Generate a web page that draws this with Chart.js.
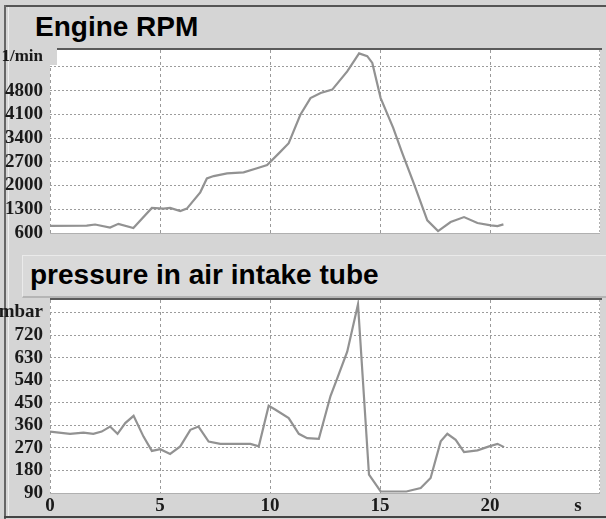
<!DOCTYPE html>
<html><head><meta charset="utf-8">
<script src="https://cdn.jsdelivr.net/npm/chart.js@4"></script>
<style>
body{margin:0;background:#fff;}
#wrap{position:relative;width:606px;height:519px;background:#d5d5d5;overflow:hidden;}
.t{position:absolute;font-family:"Liberation Sans",Arial,sans-serif;font-weight:bold;font-size:28px;line-height:28px;color:#000;white-space:nowrap;}
canvas{position:absolute;}
.ln{position:absolute;}
</style></head>
<body>
<div id="wrap">
  <div class="ln" style="left:5px;top:5px;width:601px;height:2px;background:#555;"></div>
  <div class="ln" style="left:4px;top:5px;width:2px;height:514px;background:#666;"></div>
  <div class="ln" style="left:8px;top:7px;width:1px;height:510px;background:#eee;"></div>
  <div class="ln" style="left:4px;top:516px;width:602px;height:2px;background:#444;"></div>
  <div class="ln" style="left:22px;top:255px;width:584px;height:40px;background:#d9d9d9;border-top:1px solid #eaeaea;border-left:1px solid #eaeaea;border-bottom:2px solid #b5b5b5;"></div>
  <div class="t" style="left:35px;top:13px;">Engine RPM</div>
  <div class="t" style="left:30px;top:261px;">pressure in air intake tube</div>
  <canvas id="c1" width="606" height="200" style="left:0;top:40px;"></canvas>
  <canvas id="c2" width="606" height="229" style="left:0;top:290px;"></canvas>
</div>
<script>
// Engine RPM (1/min) over time (s)
const rpmTime = [0, 1.67, 2.05, 2.73, 3.11, 3.79, 4.63, 5.16, 5.46, 5.92, 6.22, 6.83, 7.13, 7.44, 8.05, 8.8, 9.41, 9.87, 10.4, 10.85, 11.38, 11.84, 12.3, 12.83, 13.51, 14.05, 14.42, 14.65, 15.03, 15.6, 16.0, 16.54, 17.15, 17.64, 18.21, 18.82, 19.43, 20.04, 20.34, 20.61];
const rpmValues = [810, 815, 850, 760, 870, 745, 1340, 1320, 1340, 1250, 1320, 1800, 2210, 2280, 2360, 2390, 2510, 2605, 2950, 3250, 4090, 4580, 4730, 4830, 5370, 5900, 5817, 5620, 4580, 3700, 2980, 2060, 975, 656, 925, 1070, 895, 825, 805, 855];
// Pressure in air intake tube (mbar) over time (s)
const pTime = [0, 0.91, 1.52, 1.97, 2.35, 2.73, 3.07, 3.42, 3.8, 4.25, 4.63, 5.01, 5.46, 5.92, 6.38, 6.75, 7.21, 7.74, 9.11, 9.49, 9.94, 10.25, 10.85, 11.31, 11.69, 12.22, 12.75, 13.06, 13.51, 14.0, 14.5, 15.03, 15.94, 16.2, 16.85, 17.3, 17.76, 18.06, 18.44, 18.82, 19.43, 19.96, 20.34, 20.64];
const pValues = [335, 326, 331, 326, 335, 355, 326, 369, 398, 315, 258, 265, 246, 276, 342, 355, 295, 286, 286, 276, 438, 422, 389, 326, 309, 306, 477, 548, 654, 843, 163, 96, 96, 96, 110, 150, 296, 326, 302, 253, 260, 276, 286, 273];
// Tick labels
const xTicks = [0, 5, 10, 15, 20];
const xUnit = 's';
const rpmTicks = [600, 1300, 2000, 2700, 3400, 4100, 4800, 5500];
const rpmUnit = '1/min';
const pTicks = [90, 180, 270, 360, 450, 540, 630, 720];
const pUnit = 'mbar';

const GRAY = '#d5d5d5';
const frame = {
  id: 'frame',
  beforeDraw(chart) {
    const a = chart.chartArea, c = chart.ctx;
    c.save(); c.fillStyle = '#fff';
    c.fillRect(a.left, a.top, a.right - a.left, a.bottom - a.top);
    c.restore();
  },
  afterDraw(chart, args, opts) {
    const a = chart.chartArea, c = chart.ctx;
    c.save();
    if (opts.topInset) {
      c.fillStyle = GRAY;
      c.fillRect(a.left, a.top, opts.topInset, 15);
    }
    c.strokeStyle = '#b0b0b0'; c.lineWidth = 1;
    c.beginPath(); c.moveTo(a.left, a.bottom + 0.5); c.lineTo(a.right, a.bottom + 0.5); c.stroke();
    c.setLineDash([2, 2]);
    c.beginPath(); c.moveTo(a.right - 0.5, a.top); c.lineTo(a.right - 0.5, a.bottom); c.stroke();
    c.setLineDash([]);
    c.strokeStyle = '#5a5a5a'; c.lineWidth = 2;
    c.beginPath(); c.moveTo(a.left + (opts.topInset || 0), a.top - 1); c.lineTo(a.right + 2, a.top - 1); c.stroke();
    c.restore();
  }
};

function makeChart(id, times, values, yTicks, unit, unitVal, yMin, yMax, showX, padTop, padBottom, xH, topInset) {
  const data = times.map((t, i) => ({x: t, y: values[i]}));
  const fam = '"Liberation Serif", "Times New Roman", serif';
  const tickFont = {family: fam, size: 19, weight: 'bold'};
  return new Chart(document.getElementById(id), {
    type: 'line',
    data: {datasets: [{data, borderColor: '#929292', borderWidth: 2.2, pointRadius: 0, tension: 0, fill: false}]},
    plugins: [frame],
    options: {
      responsive: false, animation: false, events: [],
      layout: {padding: {left: 0, right: 6, top: padTop, bottom: padBottom}},
      plugins: {legend: {display: false}, tooltip: {enabled: false}, frame: {topInset}},
      scales: {
        x: {
          type: 'linear', min: 0, max: 25,
          afterBuildTicks(s) { s.ticks = xTicks.concat([24]).map(v => ({value: v})); },
          afterFit(s) { s.height = xH; s.paddingLeft = 0; s.paddingRight = 0; },
          border: {display: false, dash: [3, 3]},
          grid: {drawTicks: false, color: ctx => (ctx.tick && ctx.tick.value === 24) ? 'rgba(0,0,0,0)' : '#9a9a9a', lineWidth: 1},
          ticks: {display: showX, padding: 2, color: '#1a1a1a', font: tickFont, maxRotation: 0, autoSkip: false,
            callback: v => v === 24 ? xUnit : String(v)}
        },
        y: {
          type: 'linear', min: yMin, max: yMax,
          afterBuildTicks(s) { s.ticks = yTicks.concat([unitVal]).map(v => ({value: v})); },
          afterFit(s) { s.width = 50; s.paddingTop = 0; s.paddingBottom = 0; },
          border: {display: false, dash: [2, 2]},
          grid: {drawTicks: false, color: ctx => (ctx.tick && (ctx.tick.value === yMin || (unitVal === 5800 && ctx.tick.value === unitVal))) ? 'rgba(0,0,0,0)' : '#9c9c9c', lineWidth: 1},
          ticks: {padding: 7, color: '#1a1a1a', autoSkip: false,
            font: ctx => ({family: fam, weight: 'bold', size: (ctx.tick && ctx.tick.value === 5800) ? 17 : 19}),
            callback: v => v === unitVal ? unit : (v === 5500 ? '' : String(v))}
        }
      }
    }
  });
}
const ch1 = makeChart('c1', rpmTime, rpmValues, rpmTicks, rpmUnit, 5800, 600, 6000, false, 10, 7, 0, 7);
const ch2 = makeChart('c2', pTime, pValues, pTicks, pUnit, 810, 90, 860, true, 10, 2, 24, 0);
</script>
</body></html>
